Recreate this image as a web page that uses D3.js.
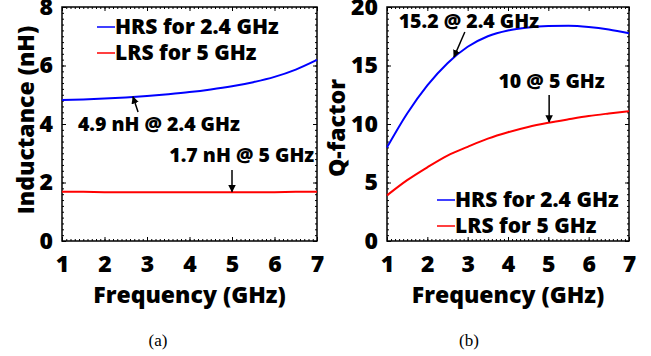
<!DOCTYPE html>
<html>
<head>
<meta charset="utf-8">
<script src="https://cdn.jsdelivr.net/npm/d3@7"></script>
<style>
  body { margin: 0; background: #fff; }
  svg text { font-family: "Open Sans", Lato, sans-serif; font-weight: 800; fill: #000; }
  .cap { font-family: "Liberation Serif", "Times New Roman", serif !important; font-weight: normal !important; }
</style>
</head>
<body>
<svg id="chart" width="651" height="356"></svg>
<script>
// frequency points (GHz)
var freq = [1, 1.5, 2, 2.5, 3, 3.5, 4, 4.5, 5, 5.5, 6, 6.5, 7];
// inductance (nH)
var indHRS = [4.82, 4.84, 4.87, 4.91, 4.96, 5.02, 5.09, 5.18, 5.29, 5.43, 5.61, 5.86, 6.19];
var indLRS = [1.68, 1.68, 1.67, 1.67, 1.67, 1.67, 1.67, 1.67, 1.67, 1.67, 1.67, 1.68, 1.68];
// Q-factor
var qHRS = [8.0, 10.9, 13.3, 15.2, 16.6, 17.5, 18.0, 18.25, 18.37, 18.4, 18.3, 18.08, 17.75];
var qLRS = [3.9, 5.2, 6.3, 7.3, 8.05, 8.75, 9.3, 9.75, 10.1, 10.4, 10.68, 10.9, 11.1];

var xTicks = [1, 2, 3, 4, 5, 6, 7];
var indTicks = [0, 2, 4, 6, 8];
var qTicks = [0, 5, 10, 15, 20];
var seriesNames = ['HRS for 2.4 GHz', 'LRS for 5 GHz'];
var seriesColors = ['#0000ff', '#ff0000'];

var svg = d3.select('#chart');

function panel(opt) {
  var x = d3.scaleLinear().domain([1, 7]).range([opt.x0, opt.x1]);
  var y = d3.scaleLinear().domain(opt.yDomain).range([241, 7]);
  var g = svg.append('g');

  // minor ticks on all four sides
  var xMinor = d3.range(10, 71).map(function (d) { return d / 10; });
  var yMinor = d3.range(0, 41).map(function (d) { return d * opt.yDomain[1] / 40; });
  [[d3.axisBottom(x), 241], [d3.axisTop(x), 7]].forEach(function (a) {
    g.append('g').attr('transform', 'translate(0,' + a[1] + ')')
      .call(a[0].tickValues(xMinor).tickSizeInner(-2).tickSizeOuter(0).tickFormat(''));
  });
  [[d3.axisLeft(y), opt.x0], [d3.axisRight(y), opt.x1]].forEach(function (a) {
    g.append('g').attr('transform', 'translate(' + a[1] + ',0)')
      .call(a[0].tickValues(yMinor).tickSizeInner(-2).tickSizeOuter(0).tickFormat(''));
  });

  // major ticks + labels
  var xa = g.append('g').attr('transform', 'translate(0,241)')
    .call(d3.axisBottom(x).tickValues(xTicks).tickFormat(d3.format('d'))
      .tickSizeInner(-4).tickSizeOuter(0).tickPadding(15));
  xa.selectAll('text').style('font-size', '23px');
  g.append('g').attr('transform', 'translate(0,7)')
    .call(d3.axisTop(x).tickValues(xTicks).tickSizeInner(-4).tickSizeOuter(0).tickFormat(''));
  var ya = g.append('g').attr('transform', 'translate(' + opt.x0 + ',0)')
    .call(d3.axisLeft(y).tickValues(opt.yTicks).tickFormat(d3.format('d'))
      .tickSizeInner(-4).tickSizeOuter(0).tickPadding(9));
  ya.selectAll('text').style('font-size', '23px');
  g.append('g').attr('transform', 'translate(' + opt.x1 + ',0)')
    .call(d3.axisRight(y).tickValues(opt.yTicks).tickSizeInner(-4).tickSizeOuter(0).tickFormat(''));
  g.selectAll('.domain').remove();
  g.selectAll('.tick line').attr('stroke', '#000').attr('stroke-width', 1);

  // frame
  g.append('rect').attr('x', opt.x0).attr('y', 7)
    .attr('width', opt.x1 - opt.x0).attr('height', 234)
    .attr('fill', 'none').attr('stroke', '#000').attr('stroke-width', 1.5);

  // curves
  var line = d3.line().curve(d3.curveMonotoneX)
    .x(function (d) { return x(d[0]); }).y(function (d) { return y(d[1]); });
  opt.series.forEach(function (s, i) {
    g.append('path').datum(d3.zip(freq, s))
      .attr('d', line).attr('fill', 'none')
      .attr('stroke', seriesColors[i]).attr('stroke-width', 2);
  });

  // legend
  seriesNames.forEach(function (n, i) {
    var ly = opt.legY + i * 26;
    g.append('line').attr('x1', opt.legX).attr('x2', opt.legX + 18)
      .attr('y1', ly).attr('y2', ly)
      .attr('stroke', seriesColors[i]).attr('stroke-width', 1.5);
    g.append('text').attr('x', opt.legX + 18).attr('y', ly).attr('dy', '0.35em')
      .style('font-size', '21px').text(n);
  });

  // annotations
  opt.notes.forEach(function (a) {
    g.append('text').attr('x', x(a.tx)).attr('y', y(a.ty))
      .attr('text-anchor', 'middle').style('font-size', '19.5px').text(a.label);
    g.append('line')
      .attr('x1', x(a.from[0])).attr('y1', y(a.from[1]))
      .attr('x2', x(a.to[0])).attr('y2', y(a.to[1]))
      .attr('stroke', '#000').attr('stroke-width', 1.5)
      .attr('marker-end', 'url(#arrow)');
  });

  // axis titles
  g.append('text').attr('x', (opt.x0 + opt.x1) / 2).attr('y', 303)
    .attr('text-anchor', 'middle').style('font-size', '23px').text('Frequency (GHz)');
  g.append('text').attr('transform', 'translate(' + opt.yTitleX + ',' + opt.yTitleY + ') rotate(-90)')
    .attr('text-anchor', 'middle').attr('dy', '0.35em')
    .style('font-size', '23px').text(opt.yTitle);
  g.append('text').attr('class', 'cap').attr('x', opt.capX).attr('y', 346)
    .attr('text-anchor', 'middle').style('font-size', '17px').text(opt.cap);
}

svg.append('defs').append('marker').attr('id', 'arrow')
  .attr('viewBox', '0 0 10 10').attr('refX', 9).attr('refY', 5)
  .attr('markerWidth', 5).attr('markerHeight', 5).attr('orient', 'auto')
  .append('path').attr('d', 'M0,0 L10,5 L0,10 z').attr('fill', '#000');

panel({
  x0: 62, x1: 317, yDomain: [0, 8], yTicks: indTicks,
  series: [indHRS, indLRS],
  legX: 97, legY: 27,
  yTitle: 'Inductance (nH)', yTitleX: 26, yTitleY: 120,
  cap: '(a)', capX: 158,
  notes: [
    { label: '4.9 nH @ 2.4 GHz', tx: 3.28, ty: 3.76, from: [2.79, 4.41], to: [2.67, 4.93] },
    { label: '1.7 nH @ 5 GHz', tx: 5.23, ty: 2.7, from: [5.0, 2.43], to: [5.0, 1.68] }
  ]
});

panel({
  x0: 387, x1: 629, yDomain: [0, 20], yTicks: qTicks,
  series: [qHRS, qLRS],
  legX: 437, legY: 200,
  yTitle: 'Q-factor', yTitleX: 337, yTitleY: 128,
  cap: '(b)', capX: 469,
  notes: [
    { label: '15.2 @ 2.4 GHz', tx: 3.03, ty: 18.2, from: [2.93, 17.86], to: [2.66, 15.73] },
    { label: '10 @ 5 GHz', tx: 5.08, ty: 13.08, from: [5.02, 12.48], to: [5.02, 10.17] }
  ]
});
</script>
</body>
</html>
